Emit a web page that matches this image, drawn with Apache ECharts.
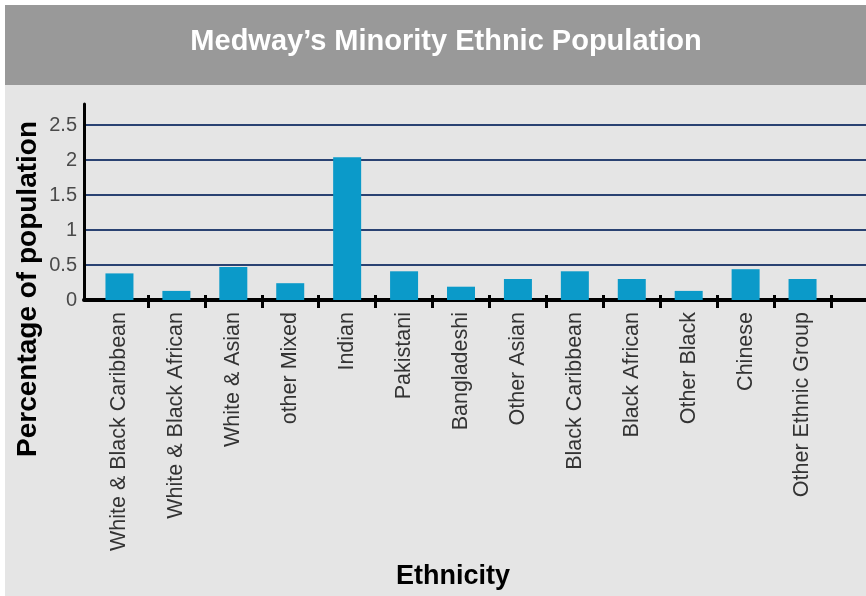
<!DOCTYPE html>
<html>
<head>
<meta charset="utf-8">
<script src="https://cdn.jsdelivr.net/npm/echarts@6/dist/echarts.min.js"></script>
<style>
html,body{margin:0;padding:0;background:#ffffff;}
#chart{width:866px;height:596px;}
</style>
</head>
<body>
<div id="chart"></div>
<script>
const titleText = "Medway\u2019s Minority Ethnic Population";
const xAxisTitle = "Ethnicity";
const yAxisTitle = "Percentage of population";
const categories = ["White & Black Caribbean","White & Black African","White & Asian","other Mixed","Indian","Pakistani","Bangladeshi","Other Asian","Black Caribbean","Black African","Other Black","Chinese","Other Ethnic Group"];
const values = [0.38, 0.13, 0.47, 0.24, 2.04, 0.41, 0.19, 0.30, 0.41, 0.30, 0.13, 0.44, 0.30];
const yMin = 0, yMax = 2.8, yStep = 0.5;

const FONT = "'Liberation Sans', Arial, Helvetica, sans-serif";
const chart = echarts.init(document.getElementById('chart'), null, {renderer: 'canvas'});
chart.setOption({
  animation: false,
  backgroundColor: '#ffffff',
  graphic: [
    {type:'rect', z:-10, shape:{x:5,y:5,width:861,height:591}, style:{fill:'#e5e5e5'}, silent:true},
    {type:'rect', z:-9, shape:{x:5,y:5,width:861,height:80}, style:{fill:'#999999'}, silent:true},
    {type:'text', x:446, y:42, style:{text:titleText, fill:'#ffffff', font:'bold 29px '+FONT, textAlign:'center', textVerticalAlign:'middle'}},
    {type:'text', x:28, y:289, rotation:Math.PI/2, style:{text:yAxisTitle, fill:'#000000', font:'bold 28px '+FONT, textAlign:'center', textVerticalAlign:'middle'}},
    {type:'text', x:453, y:577, style:{text:xAxisTitle, fill:'#000000', font:'bold 27px '+FONT, textAlign:'center', textVerticalAlign:'middle'}}
  ],
  grid: [
    {left:91, right:35, top:104, bottom:296, containLabel:false},
    {left:84, right:0, top:104, bottom:296, containLabel:false}
  ],
  xAxis: [
    {type:'category', gridIndex:0, data:categories, offset:-5,
     axisLine:{show:false},
     axisTick:{show:true, length:13, lineStyle:{color:'#000', width:3}, interval:function(i){return i!==0;}},
     axisLabel:{rotate:90, fontSize:21.5, color:'#333333', fontFamily:FONT, margin:17, interval:0},
     splitLine:{show:false}},
    {type:'value', gridIndex:1, min:0, max:1,
     axisLine:{show:true, onZero:false, lineStyle:{color:'#000', width:4}},
     axisTick:{show:false}, axisLabel:{show:false}, splitLine:{show:false}}
  ],
  yAxis: [
    {type:'value', gridIndex:0, min:yMin, max:yMax, interval:yStep, show:false, splitLine:{show:false}},
    {type:'value', gridIndex:1, min:yMin, max:yMax, interval:yStep,
     axisLine:{show:true, onZero:false, lineStyle:{color:'#000', width:3}},
     axisTick:{show:false},
     axisLabel:{show:true, fontSize:20, color:'#4a4a4a', fontFamily:FONT, margin:7, showMaxLabel:false},
     splitLine:{show:true, showMaxLine:false, lineStyle:{color:'#2a4272', width:2}}}
  ],
  series: [
    {type:'bar', xAxisIndex:0, yAxisIndex:0, data:values, barWidth:28,
     itemStyle:{color:'#0b9ac9'}, z:3}
  ]
});
</script>
</body>
</html>
